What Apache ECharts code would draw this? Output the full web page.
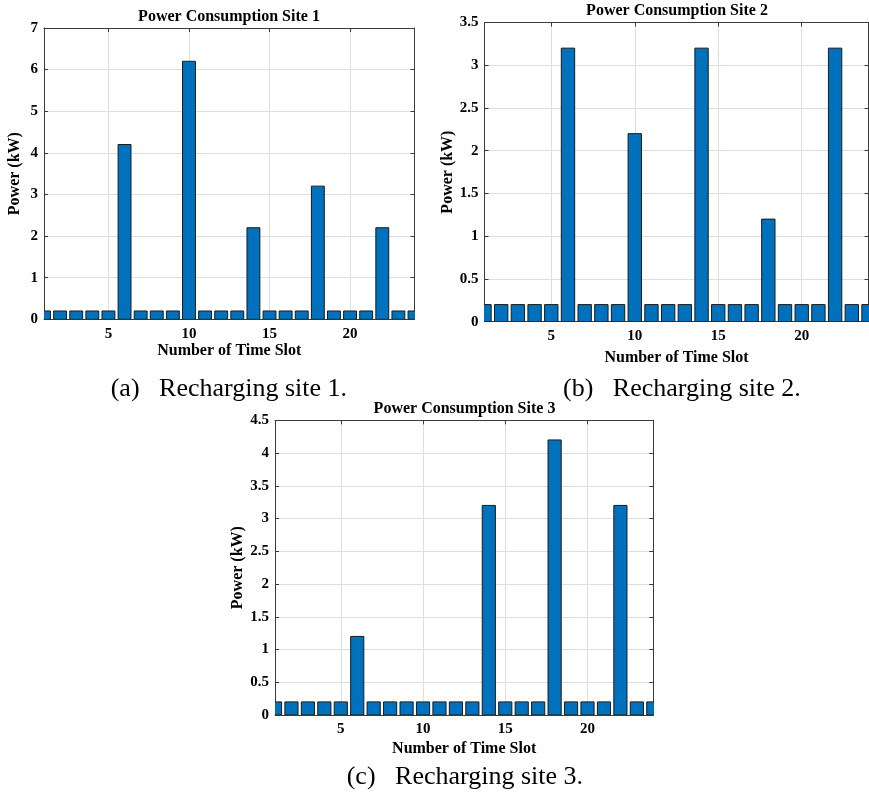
<!DOCTYPE html>
<html>
<head>
<meta charset="utf-8">
<script src="https://cdn.jsdelivr.net/npm/echarts@6/dist/echarts.min.js"></script>
<style>
html,body{margin:0;padding:0;background:#fff;}
#chart{width:869px;height:794px;}
</style>
</head>
<body>
<div id="chart"></div>
<script>
// ---- data ----
const slots = [1,2,3,4,5,6,7,8,9,10,11,12,13,14,15,16,17,18,19,20,21,22,23,24];
const site1 = [0.2,0.2,0.2,0.2,0.2,4.2,0.2,0.2,0.2,6.2,0.2,0.2,0.2,2.2,0.2,0.2,0.2,3.2,0.2,0.2,0.2,2.2,0.2,0.2];
const site2 = [0.2,0.2,0.2,0.2,0.2,3.2,0.2,0.2,0.2,2.2,0.2,0.2,0.2,3.2,0.2,0.2,0.2,1.2,0.2,0.2,0.2,3.2,0.2,0.2];
const site3 = [0.2,0.2,0.2,0.2,0.2,1.2,0.2,0.2,0.2,0.2,0.2,0.2,0.2,3.2,0.2,0.2,0.2,4.2,0.2,0.2,0.2,3.2,0.2,0.2];
const xTicks = [5,10,15,20];
const yMax = [7, 3.5, 4.5];
const yStep = [1, 0.5, 0.5];
const titles = ['Power Consumption Site 1','Power Consumption Site 2','Power Consumption Site 3'];
const captions = ['(a)   Recharging site 1.','(b)   Recharging site 2.','(c)   Recharging site 3.'];
const xName = 'Number of Time Slot';
const yName = 'Power (kW)';

// ---- layout ----
const grids = [
  {left:44, top:28, width:370.5, height:291.3},
  {left:484.5, top:22.5, width:384, height:299.2},
  {left:275, top:420.3, width:378.3, height:294.7}
];
const yNameGap = [21, 29, 27];
const xNameGap = [24, 28, 26];
const titlePos = [[229,17],[677,11],[464.5,409]];
const capPos = [[110.7,389],[563,389],[346.7,777]];
const BAR_HALF = 0.4; // MATLAB default bar width 0.8

const FONT = '"Liberation Serif","Times New Roman",serif';
const AX = '#3a3a3a';
const sites = [site1, site2, site3];

const option = {
  animation:false,
  backgroundColor:'#fff',
  grid: grids.map(g => Object.assign({containLabel:false, show:true, backgroundColor:'#fff', borderWidth:0}, g)),
  xAxis: [], yAxis: [], series: [], graphic: []
};

function renderBar(params, api) {
  const x = api.value(0), y = api.value(1);
  const p0 = api.coord([x - BAR_HALF, 0]);
  const p1 = api.coord([x + BAR_HALF, y]);
  return {
    type:'rect',
    shape:{x:p0[0], y:p1[1], width:p1[0]-p0[0], height:p0[1]-p1[1]},
    style:{fill:'#0072BD', stroke:'#1a1a1a', lineWidth:1}
  };
}

grids.forEach((g, i) => {
  option.xAxis.push({
    type:'value', gridIndex:i, min:1, max:24, position:'bottom',
    name:xName, nameLocation:'middle', nameGap:xNameGap[i],
    nameTextStyle:{fontFamily:FONT, fontWeight:'bold', fontSize:16, color:'#000'},
    axisLine:{show:true, onZero:false, lineStyle:{color:AX, width:1}},
    axisTick:{show:true, inside:true, length:4, customValues:xTicks, lineStyle:{color:AX}},
    axisLabel:{show:true, customValues:xTicks, margin:7, fontFamily:FONT, fontWeight:'bold', fontSize:15, color:'#000'},
    splitLine:{show:true, lineStyle:{color:'#dedede', width:1}}
  });
  option.xAxis.push({
    type:'value', gridIndex:i, min:1, max:24, position:'top',
    axisLine:{show:true, onZero:false, lineStyle:{color:AX, width:1}},
    axisTick:{show:true, inside:true, length:4, customValues:xTicks, lineStyle:{color:AX}},
    axisLabel:{show:false}, splitLine:{show:false}
  });
  option.yAxis.push({
    type:'value', gridIndex:i, min:0, max:yMax[i], interval:yStep[i], position:'left',
    name:yName, nameLocation:'middle', nameGap:yNameGap[i],
    nameTextStyle:{fontFamily:FONT, fontWeight:'bold', fontSize:16, color:'#000'},
    axisLine:{show:true, onZero:false, lineStyle:{color:AX, width:1}},
    axisTick:{show:true, inside:true, length:4, lineStyle:{color:AX}},
    axisLabel:{show:true, margin:6, fontFamily:FONT, fontWeight:'bold', fontSize:15, color:'#000'},
    splitLine:{show:true, lineStyle:{color:'#dedede', width:1}}
  });
  option.yAxis.push({
    type:'value', gridIndex:i, min:0, max:yMax[i], interval:yStep[i], position:'right',
    axisLine:{show:true, onZero:false, lineStyle:{color:AX, width:1}},
    axisTick:{show:true, inside:true, length:4, lineStyle:{color:AX}},
    axisLabel:{show:false}, splitLine:{show:false}
  });
  option.series.push({
    type:'custom', xAxisIndex:2*i, yAxisIndex:2*i, clip:true,
    renderItem: renderBar,
    encode:{x:0, y:1},
    data: slots.map((s, k) => [s, sites[i][k]]),
    emphasis:{disabled:true}
  });
  option.graphic.push({
    type:'text', x:titlePos[i][0], y:titlePos[i][1], z:100,
    style:{text:titles[i], fontFamily:FONT, fontWeight:'bold', fontSize:16, fill:'#000', align:'center', verticalAlign:'middle'}
  });
  option.graphic.push({
    type:'text', x:capPos[i][0], y:capPos[i][1], z:100,
    style:{text:captions[i], fontFamily:FONT, fontSize:26, fill:'#000', align:'left', verticalAlign:'middle'}
  });
});

const chart = echarts.init(document.getElementById('chart'), null, {renderer:'canvas'});
chart.setOption(option);
</script>
</body>
</html>
